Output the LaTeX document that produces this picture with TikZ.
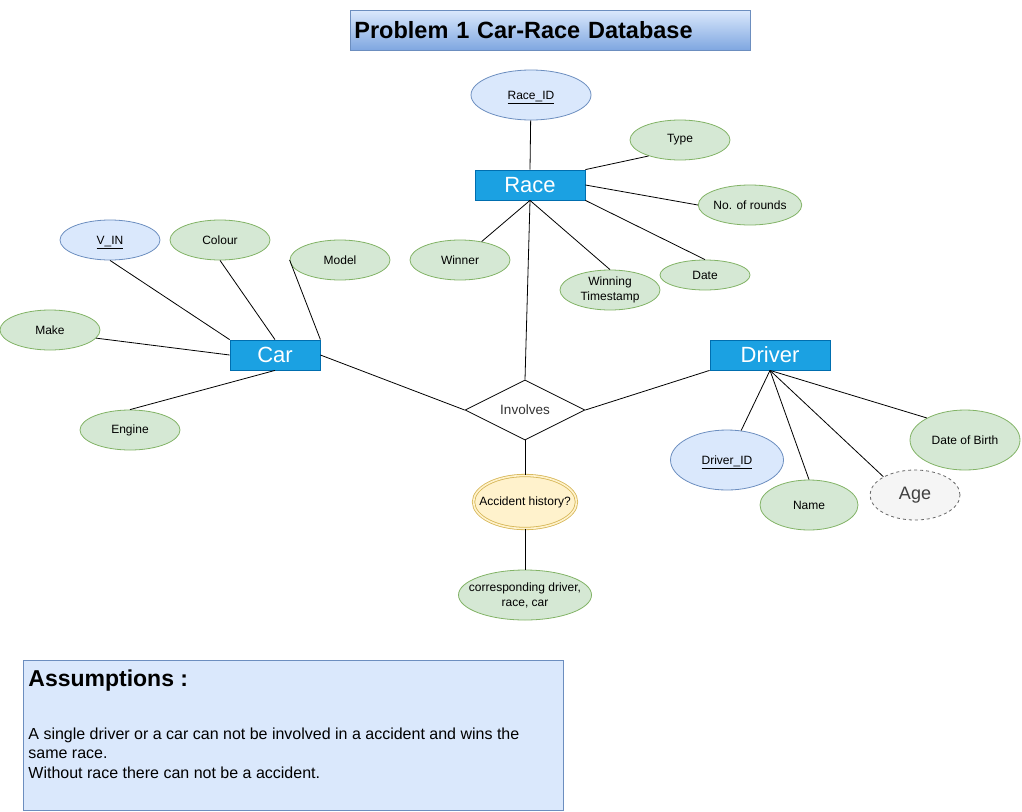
\documentclass[tikz,border=0pt]{standalone}
\usepackage{fontspec}
\setmainfont{Liberation Sans}
\usetikzlibrary{shapes.geometric}
\definecolor{keyfill}{HTML}{DAE8FC}
\definecolor{keyline}{HTML}{6C8EBF}
\definecolor{attrfill}{HTML}{D5E8D4}
\definecolor{attrline}{HTML}{82B366}
\definecolor{entfill}{HTML}{1BA1E2}
\definecolor{entline}{HTML}{006EAF}
\definecolor{derfill}{HTML}{F5F5F5}
\definecolor{derline}{HTML}{666666}
\definecolor{multfill}{HTML}{FFF2CC}
\definecolor{multline}{HTML}{D6B656}
\definecolor{titlebot}{HTML}{7EA6E0}
\begin{document}
\begin{tikzpicture}[x=1pt,y=-1pt,line width=0.8pt,
    attr/.style={ellipse,draw=attrline,fill=attrfill,inner sep=0pt,align=center,
      font=\fontsize{12}{15}\selectfont},
    keyattr/.style={attr,draw=keyline,fill=keyfill,text depth=0pt},
    derived/.style={attr,draw=derline,fill=derfill,dashed,text=black!75,
      font=\fontsize{18}{20}\selectfont},
    multi/.style={attr,draw=multline,fill=multfill,double=multfill,double distance=1.6pt},
    entity/.style={rectangle,draw=entline,fill=entfill,text=white,inner sep=0pt,
      font=\fontsize{22}{24}\selectfont},
    relation/.style={diamond,draw=black,fill=white,inner sep=0pt,text=black!80,
      font=\fontsize{13.5}{15}\selectfont},
    link/.style={draw=black}]
    \useasboundingbox (0,0) rectangle (1022,811);
    \node[rectangle,draw=keyline,top color=keyfill,bottom color=titlebot,anchor=north west,
      minimum width=400pt,minimum height=40pt,text width=392pt,inner sep=4pt,align=left,
      font=\fontsize{23.5}{26}\selectfont\bfseries] (title) at (350,10) {Problem 1 Car-Race Database};
    \node[entity,minimum width=110pt,minimum height=30pt] (race) at (530,185) {Race};
    \node[entity,minimum width=90pt,minimum height=30pt] (car) at (275,355) {Car};
    \node[entity,minimum width=120pt,minimum height=30pt] (driver) at (770,355) {Driver};
    \node[relation,minimum width=120pt,minimum height=60pt] (involves) at (525,410) {Involves};
    \node[keyattr,minimum width=120pt,minimum height=50pt] (raceid) at (531,95) {\underline{Race\_ID}};
    \node[attr,minimum width=100pt,minimum height=40pt] (type) at (680,140) {Type};
    \node[attr,minimum width=100pt,minimum height=40pt] (rounds) at (750,205) {No. of rounds};
    \node[attr,minimum width=100pt,minimum height=40pt] (winner) at (460,260) {Winner};
    \node[attr,minimum width=100pt,minimum height=40pt] (stamp) at (610,290) {Winning\\Timestamp};
    \node[attr,minimum width=90pt,minimum height=30pt] (date) at (705,275) {Date};
    \node[keyattr,minimum width=100pt,minimum height=40pt] (vin) at (110,240) {\underline{V\_IN}};
    \node[attr,minimum width=100pt,minimum height=40pt] (colour) at (220,240) {Colour};
    \node[attr,minimum width=100pt,minimum height=40pt] (model) at (340,260) {Model};
    \node[attr,minimum width=100pt,minimum height=40pt] (make) at (50,330) {Make};
    \node[attr,minimum width=100pt,minimum height=40pt] (engine) at (130,430) {Engine};
    \node[keyattr,minimum width=113pt,minimum height=60pt] (driverid) at (727,460) {\underline{Driver\_ID}};
    \node[attr,minimum width=98pt,minimum height=50pt] (name) at (809,505) {Name};
    \node[derived,minimum width=90pt,minimum height=50pt] (age) at (915,495) {Age};
    \node[attr,minimum width=110pt,minimum height=60pt] (dob) at (965,440) {Date of Birth};
    \node[multi,minimum width=103pt,minimum height=53pt,inner xsep=-10pt] (accident) at (525,502) {Accident history?};
    \node[attr,minimum width=133pt,minimum height=50pt,inner xsep=-9pt] (parties) at (525,595) {corresponding driver,\\race, car};
    \draw[link] (raceid) -- (race.north);
    \draw[link] (race.north east) -- (type.207);
    \draw[link] (race.east) -- (rounds.west);
    \draw[link] (race.south east) -- (date.north);
    \draw[link] (race.south) -- (winner);
    \draw[link] (race.south) -- (stamp.north);
    \draw[link] (race.south) -- (involves.north);
    \draw[link] (vin.south) -- (car.north west);
    \draw[link] (colour.south) -- (car.north);
    \draw[link] (model.west) -- (car.north east);
    \draw[link] (make.-10) -- (car.west);
    \draw[link] (engine.north) -- (car.south);
    \draw[link] (car.east) -- (involves.west);
    \draw[link] (involves.east) -- (driver.south west);
    \draw[link] (driver.south) -- (driverid);
    \draw[link] (driver.south) -- (name.north);
    \draw[link] (driver.south) -- (age.150);
    \draw[link] (driver.south) -- (dob.150);
    \draw[link] (involves.south) -- (accident.north);
    \draw[link] (accident.south) -- (parties.north);
    \node[rectangle,draw=keyline,fill=keyfill,anchor=north west,minimum width=540pt,
      minimum height=150pt] (notes) at (23,660) {};
    \node[anchor=west,inner sep=0pt,font=\fontsize{23}{26}\selectfont\bfseries] (noteshead)
      at (28,681) {Assumptions :};
    \node[anchor=north west,inner sep=0pt,align=left,font=\fontsize{16}{19.5}\selectfont]
      (notesbody) at (28,727) {A single driver or a car can not be involved in a accident and wins the\\
      same race.\\Without race there can not be a accident.};
\end{tikzpicture}
\end{document}
